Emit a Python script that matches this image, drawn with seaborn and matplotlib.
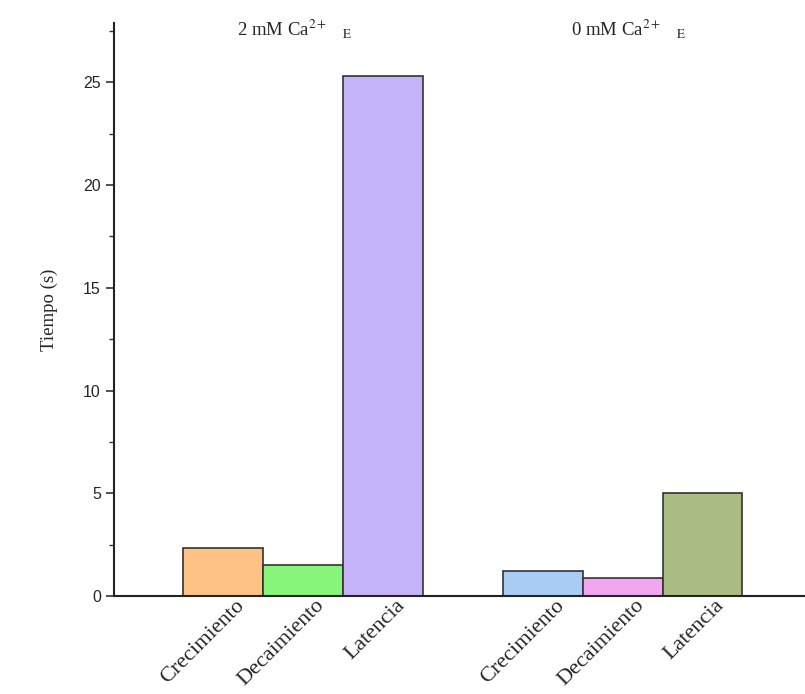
import matplotlib
matplotlib.use("Agg")
import matplotlib.pyplot as plt
import seaborn as sns
import pandas as pd
from matplotlib.ticker import MultipleLocator

# Kinetic parameters of the calcium signal under two extracellular conditions
categories = ["Crecimiento", "Decaimiento", "Latencia",
              "Crecimiento", "Decaimiento", "Latencia"]
positions = [0, 1, 2, 4, 5, 6]
tiempo = [2.35, 1.5, 25.3, 1.2, 0.9, 5.0]
group_titles = ["2 mM Ca$^{2+}$" + " " * 3 + r"$_{\mathrm{E}}$",
                "0 mM Ca$^{2+}$" + " " * 3 + r"$_{\mathrm{E}}$"]
bar_colors = ["#FFC285", "#86F57A", "#C4B3F7", "#A9CCF2", "#F2A6F2", "#A9BC82"]

sns.set_theme(style="ticks")
plt.rcParams["mathtext.fontset"] = "stix"
serif = ["Liberation Serif", "DejaVu Serif"]
sans = ["Liberation Sans", "DejaVu Sans"]

df = pd.DataFrame({"pos": positions, "tiempo": tiempo, "cat": categories})

fig = plt.figure(figsize=(8.05, 6.94), dpi=100)
ax = fig.add_axes([0.1416, 0.1412, 0.87, 0.826])

sns.barplot(data=df, x="pos", y="tiempo", hue="pos", palette=bar_colors,
            native_scale=True, width=1.0, dodge=False, legend=False,
            saturation=1, edgecolor="#333333", linewidth=1.2, ax=ax)

ax.set_xlim(-1.37, 7.4)
ax.set_ylim(0, 27.9)
ax.yaxis.set_major_locator(MultipleLocator(5))
ax.yaxis.set_minor_locator(MultipleLocator(2.5))
ax.set_xticks([p + 0.15 for p in positions])
ax.set_xticklabels(categories, rotation=45, ha="right", rotation_mode="anchor",
                   family=serif, fontsize=16)
for lbl in ax.get_yticklabels():
    lbl.set_family(sans)
    lbl.set_fontsize(11.5)
ax.tick_params(axis="x", length=0, pad=0)
ax.tick_params(axis="y", which="major", length=6, width=1.2, color="#333333")
ax.tick_params(axis="y", which="minor", length=3.5, width=1.0, color="#333333")

for s in ["top", "right"]:
    ax.spines[s].set_visible(False)
for s in ["left", "bottom"]:
    ax.spines[s].set_linewidth(1.5)
    ax.spines[s].set_color("#222222")

ax.set_xlabel("")
ax.set_ylabel("Tiempo (s)", family=serif, fontsize=13.5, labelpad=18)

for title, center in zip(group_titles, [0.9, 5.07]):
    ax.text(center, 1.01, title, transform=ax.get_xaxis_transform(),
            ha="center", va="top", family=serif, fontsize=13.5)

fig.savefig("out.png", dpi=100)
